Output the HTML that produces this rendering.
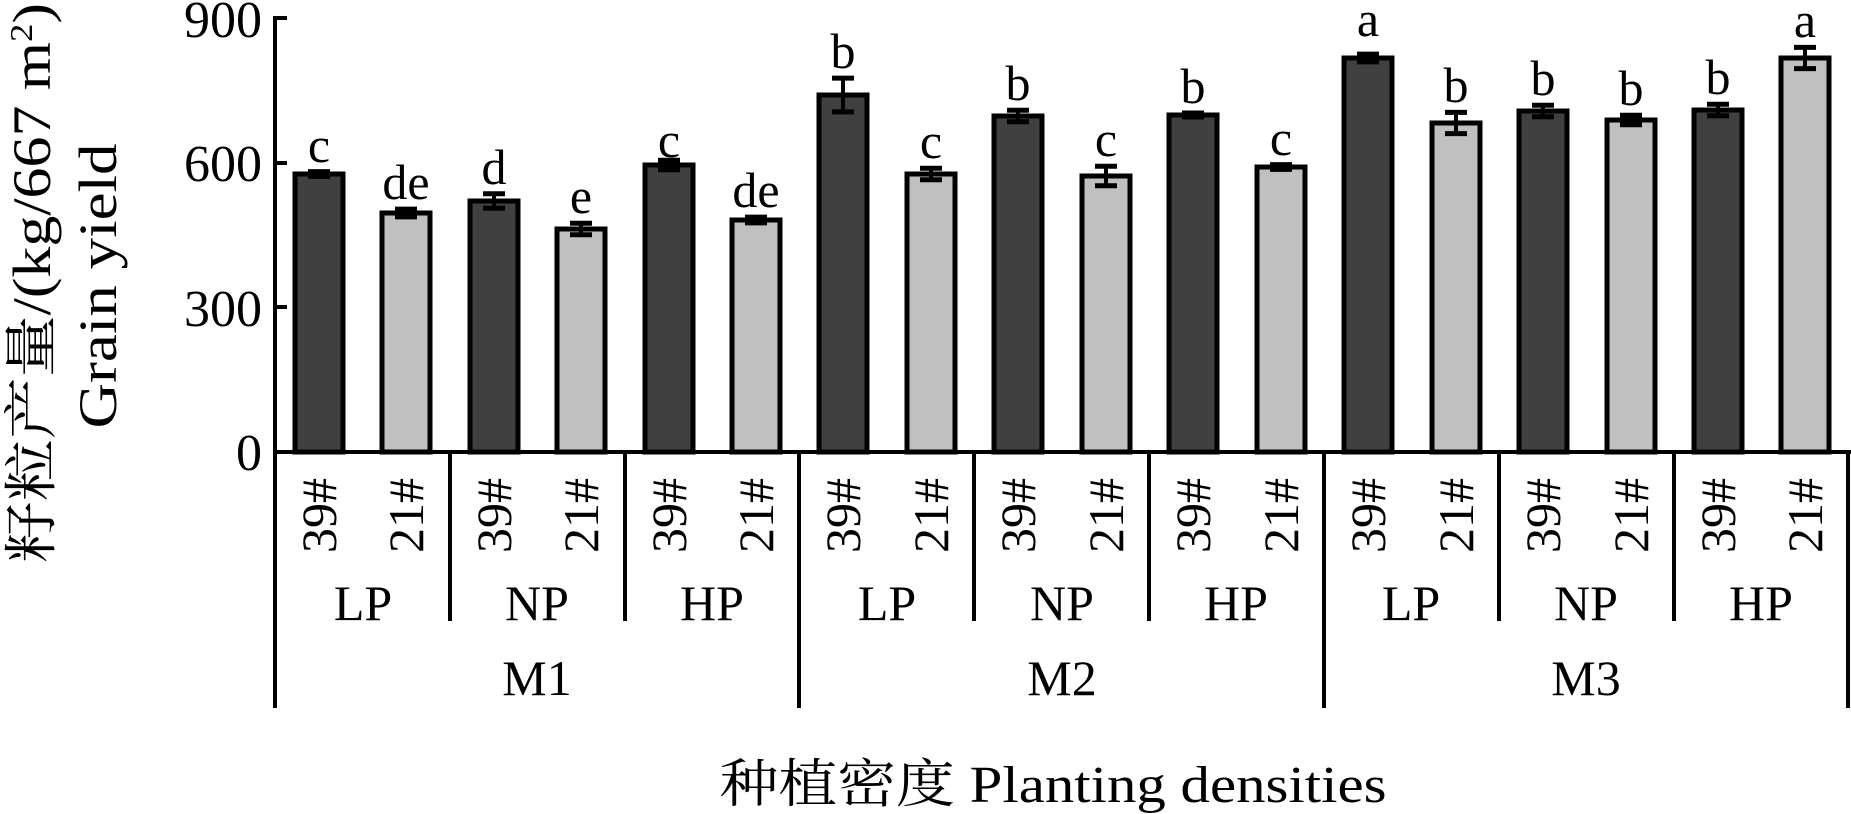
<!DOCTYPE html>
<html><head><meta charset="utf-8"><style>
html,body{margin:0;padding:0;background:#fff;}
svg{display:block;}
text{font-family:"Liberation Serif","Noto Serif CJK SC",serif;fill:#000;}
.D{fill:#404040;stroke:#000;stroke-width:5}
.L{fill:#c0c0c0;stroke:#000;stroke-width:5}
.e{stroke:#000;stroke-width:4}
.w{stroke:#000;stroke-width:5}
</style></head><body>
<svg width="1851" height="814" viewBox="0 0 1851 814" xmlns="http://www.w3.org/2000/svg">
<line x1="275" y1="16" x2="275" y2="454" stroke="#000" stroke-width="4"/>
<line x1="275" y1="18" x2="287" y2="18" stroke="#000" stroke-width="4"/>
<line x1="275" y1="163" x2="287" y2="163" stroke="#000" stroke-width="4"/>
<line x1="275" y1="307" x2="287" y2="307" stroke="#000" stroke-width="4"/>
<g font-size="52" text-anchor="end">
<text x="262" y="37">900</text>
<text x="262" y="181">600</text>
<text x="262" y="326">300</text>
<text x="262" y="470">0</text>
</g>
<g font-size="50" text-anchor="middle">
<g transform="translate(319,174)"><rect class="D" x="-24" y="0" width="48" height="278"/><line class="e" x1="0" y1="-2.4" x2="0" y2="2.4"/><line class="w" x1="-11" y1="-2.4" x2="11" y2="-2.4"/><line class="w" x1="-11" y1="2.4" x2="11" y2="2.4"/><text y="-12">c</text></g>
<g transform="translate(406,213)"><rect class="L" x="-24" y="0" width="48" height="239"/><line class="e" x1="0" y1="-3.9" x2="0" y2="3.9"/><line class="w" x1="-11" y1="-3.9" x2="11" y2="-3.9"/><line class="w" x1="-11" y1="3.9" x2="11" y2="3.9"/><text y="-14">de</text></g>
<g transform="translate(494,201)"><rect class="D" x="-24" y="0" width="48" height="251"/><line class="e" x1="0" y1="-7.3" x2="0" y2="7.3"/><line class="w" x1="-11" y1="-7.3" x2="11" y2="-7.3"/><line class="w" x1="-11" y1="7.3" x2="11" y2="7.3"/><text y="-17">d</text></g>
<g transform="translate(581,229)"><rect class="L" x="-24" y="0" width="48" height="223"/><line class="e" x1="0" y1="-5.8" x2="0" y2="5.8"/><line class="w" x1="-11" y1="-5.8" x2="11" y2="-5.8"/><line class="w" x1="-11" y1="5.8" x2="11" y2="5.8"/><text y="-16">e</text></g>
<g transform="translate(669,165)"><rect class="D" x="-24" y="0" width="48" height="287"/><line class="e" x1="0" y1="-4.8" x2="0" y2="4.8"/><line class="w" x1="-11" y1="-4.8" x2="11" y2="-4.8"/><line class="w" x1="-11" y1="4.8" x2="11" y2="4.8"/><text y="-8">c</text></g>
<g transform="translate(756,220)"><rect class="L" x="-24" y="0" width="48" height="232"/><line class="e" x1="0" y1="-2.9" x2="0" y2="2.9"/><line class="w" x1="-11" y1="-2.9" x2="11" y2="-2.9"/><line class="w" x1="-11" y1="2.9" x2="11" y2="2.9"/><text y="-13">de</text></g>
<g transform="translate(843,95)"><rect class="D" x="-24" y="0" width="48" height="357"/><line class="e" x1="0" y1="-16.9" x2="0" y2="16.9"/><line class="w" x1="-11" y1="-16.9" x2="11" y2="-16.9"/><line class="w" x1="-11" y1="16.9" x2="11" y2="16.9"/><text y="-27">b</text></g>
<g transform="translate(931,174)"><rect class="L" x="-24" y="0" width="48" height="278"/><line class="e" x1="0" y1="-5.8" x2="0" y2="5.8"/><line class="w" x1="-11" y1="-5.8" x2="11" y2="-5.8"/><line class="w" x1="-11" y1="5.8" x2="11" y2="5.8"/><text y="-16">c</text></g>
<g transform="translate(1018,116)"><rect class="D" x="-24" y="0" width="48" height="336"/><line class="e" x1="0" y1="-5.8" x2="0" y2="5.8"/><line class="w" x1="-11" y1="-5.8" x2="11" y2="-5.8"/><line class="w" x1="-11" y1="5.8" x2="11" y2="5.8"/><text y="-16">b</text></g>
<g transform="translate(1106,176)"><rect class="L" x="-24" y="0" width="48" height="276"/><line class="e" x1="0" y1="-9.7" x2="0" y2="9.7"/><line class="w" x1="-11" y1="-9.7" x2="11" y2="-9.7"/><line class="w" x1="-11" y1="9.7" x2="11" y2="9.7"/><text y="-20">c</text></g>
<g transform="translate(1193,115)"><rect class="D" x="-24" y="0" width="48" height="337"/><line class="e" x1="0" y1="-2" x2="0" y2="2"/><line class="w" x1="-11" y1="-2" x2="11" y2="-2"/><line class="w" x1="-11" y1="2" x2="11" y2="2"/><text y="-12">b</text></g>
<g transform="translate(1281,167)"><rect class="L" x="-24" y="0" width="48" height="285"/><line class="e" x1="0" y1="-2.4" x2="0" y2="2.4"/><line class="w" x1="-11" y1="-2.4" x2="11" y2="-2.4"/><line class="w" x1="-11" y1="2.4" x2="11" y2="2.4"/><text y="-12">c</text></g>
<g transform="translate(1368,58)"><rect class="D" x="-24" y="0" width="48" height="394"/><line class="e" x1="0" y1="-3.9" x2="0" y2="3.9"/><line class="w" x1="-11" y1="-3.9" x2="11" y2="-3.9"/><line class="w" x1="-11" y1="3.9" x2="11" y2="3.9"/><text y="-22">a</text></g>
<g transform="translate(1456,123)"><rect class="L" x="-24" y="0" width="48" height="329"/><line class="e" x1="0" y1="-10.6" x2="0" y2="10.6"/><line class="w" x1="-11" y1="-10.6" x2="11" y2="-10.6"/><line class="w" x1="-11" y1="10.6" x2="11" y2="10.6"/><text y="-21">b</text></g>
<g transform="translate(1543,111)"><rect class="D" x="-24" y="0" width="48" height="341"/><line class="e" x1="0" y1="-5.8" x2="0" y2="5.8"/><line class="w" x1="-11" y1="-5.8" x2="11" y2="-5.8"/><line class="w" x1="-11" y1="5.8" x2="11" y2="5.8"/><text y="-16">b</text></g>
<g transform="translate(1631,120)"><rect class="L" x="-24" y="0" width="48" height="332"/><line class="e" x1="0" y1="-4.8" x2="0" y2="4.8"/><line class="w" x1="-11" y1="-4.8" x2="11" y2="-4.8"/><line class="w" x1="-11" y1="4.8" x2="11" y2="4.8"/><text y="-15">b</text></g>
<g transform="translate(1718,110)"><rect class="D" x="-24" y="0" width="48" height="342"/><line class="e" x1="0" y1="-5.8" x2="0" y2="5.8"/><line class="w" x1="-11" y1="-5.8" x2="11" y2="-5.8"/><line class="w" x1="-11" y1="5.8" x2="11" y2="5.8"/><text y="-16">b</text></g>
<g transform="translate(1805,58)"><rect class="L" x="-24" y="0" width="48" height="394"/><line class="e" x1="0" y1="-10.6" x2="0" y2="10.6"/><line class="w" x1="-11" y1="-10.6" x2="11" y2="-10.6"/><line class="w" x1="-11" y1="10.6" x2="11" y2="10.6"/><text y="-21">a</text></g>
</g>
<line x1="273" y1="452" x2="1851" y2="452" stroke="#000" stroke-width="4"/>
<g stroke="#000" stroke-width="4">
<line x1="275" y1="452" x2="275" y2="708"/>
<line x1="450" y1="452" x2="450" y2="621"/>
<line x1="625" y1="452" x2="625" y2="621"/>
<line x1="799" y1="452" x2="799" y2="708"/>
<line x1="974" y1="452" x2="974" y2="621"/>
<line x1="1149" y1="452" x2="1149" y2="621"/>
<line x1="1324" y1="452" x2="1324" y2="708"/>
<line x1="1499" y1="452" x2="1499" y2="621"/>
<line x1="1674" y1="452" x2="1674" y2="621"/>
<line x1="1848" y1="452" x2="1848" y2="708"/>
</g>
<g font-size="50">
<text transform="translate(336,553) rotate(-90)">39#</text>
<text transform="translate(423,553) rotate(-90)">21#</text>
<text transform="translate(511,553) rotate(-90)">39#</text>
<text transform="translate(598,553) rotate(-90)">21#</text>
<text transform="translate(686,553) rotate(-90)">39#</text>
<text transform="translate(773,553) rotate(-90)">21#</text>
<text transform="translate(860,553) rotate(-90)">39#</text>
<text transform="translate(948,553) rotate(-90)">21#</text>
<text transform="translate(1035,553) rotate(-90)">39#</text>
<text transform="translate(1123,553) rotate(-90)">21#</text>
<text transform="translate(1210,553) rotate(-90)">39#</text>
<text transform="translate(1298,553) rotate(-90)">21#</text>
<text transform="translate(1385,553) rotate(-90)">39#</text>
<text transform="translate(1473,553) rotate(-90)">21#</text>
<text transform="translate(1560,553) rotate(-90)">39#</text>
<text transform="translate(1648,553) rotate(-90)">21#</text>
<text transform="translate(1735,553) rotate(-90)">39#</text>
<text transform="translate(1822,553) rotate(-90)">21#</text>
</g>
<g font-size="50" text-anchor="middle">
<text x="363" y="620">LP</text><text x="537" y="620">NP</text><text x="712" y="620">HP</text>
<text x="887" y="620">LP</text><text x="1062" y="620">NP</text><text x="1236" y="620">HP</text>
<text x="1411" y="620">LP</text><text x="1586" y="620">NP</text><text x="1761" y="620">HP</text>
<text x="537" y="695">M1</text><text x="1062" y="695">M2</text><text x="1586" y="695">M3</text>
</g>
<text x="1053" y="802" font-size="52" text-anchor="middle" textLength="667" lengthAdjust="spacingAndGlyphs">种植密度 Planting densities</text>
<text transform="translate(50,283) rotate(-90)" font-size="54" text-anchor="middle" textLength="560" lengthAdjust="spacingAndGlyphs">籽粒产量/(kg/667 m<tspan font-size="32" dy="-18">2</tspan><tspan dy="18">)</tspan></text>
<text transform="translate(116,286) rotate(-90)" font-size="54" text-anchor="middle" textLength="285" lengthAdjust="spacingAndGlyphs">Grain yield</text>
</svg>
</body></html>
